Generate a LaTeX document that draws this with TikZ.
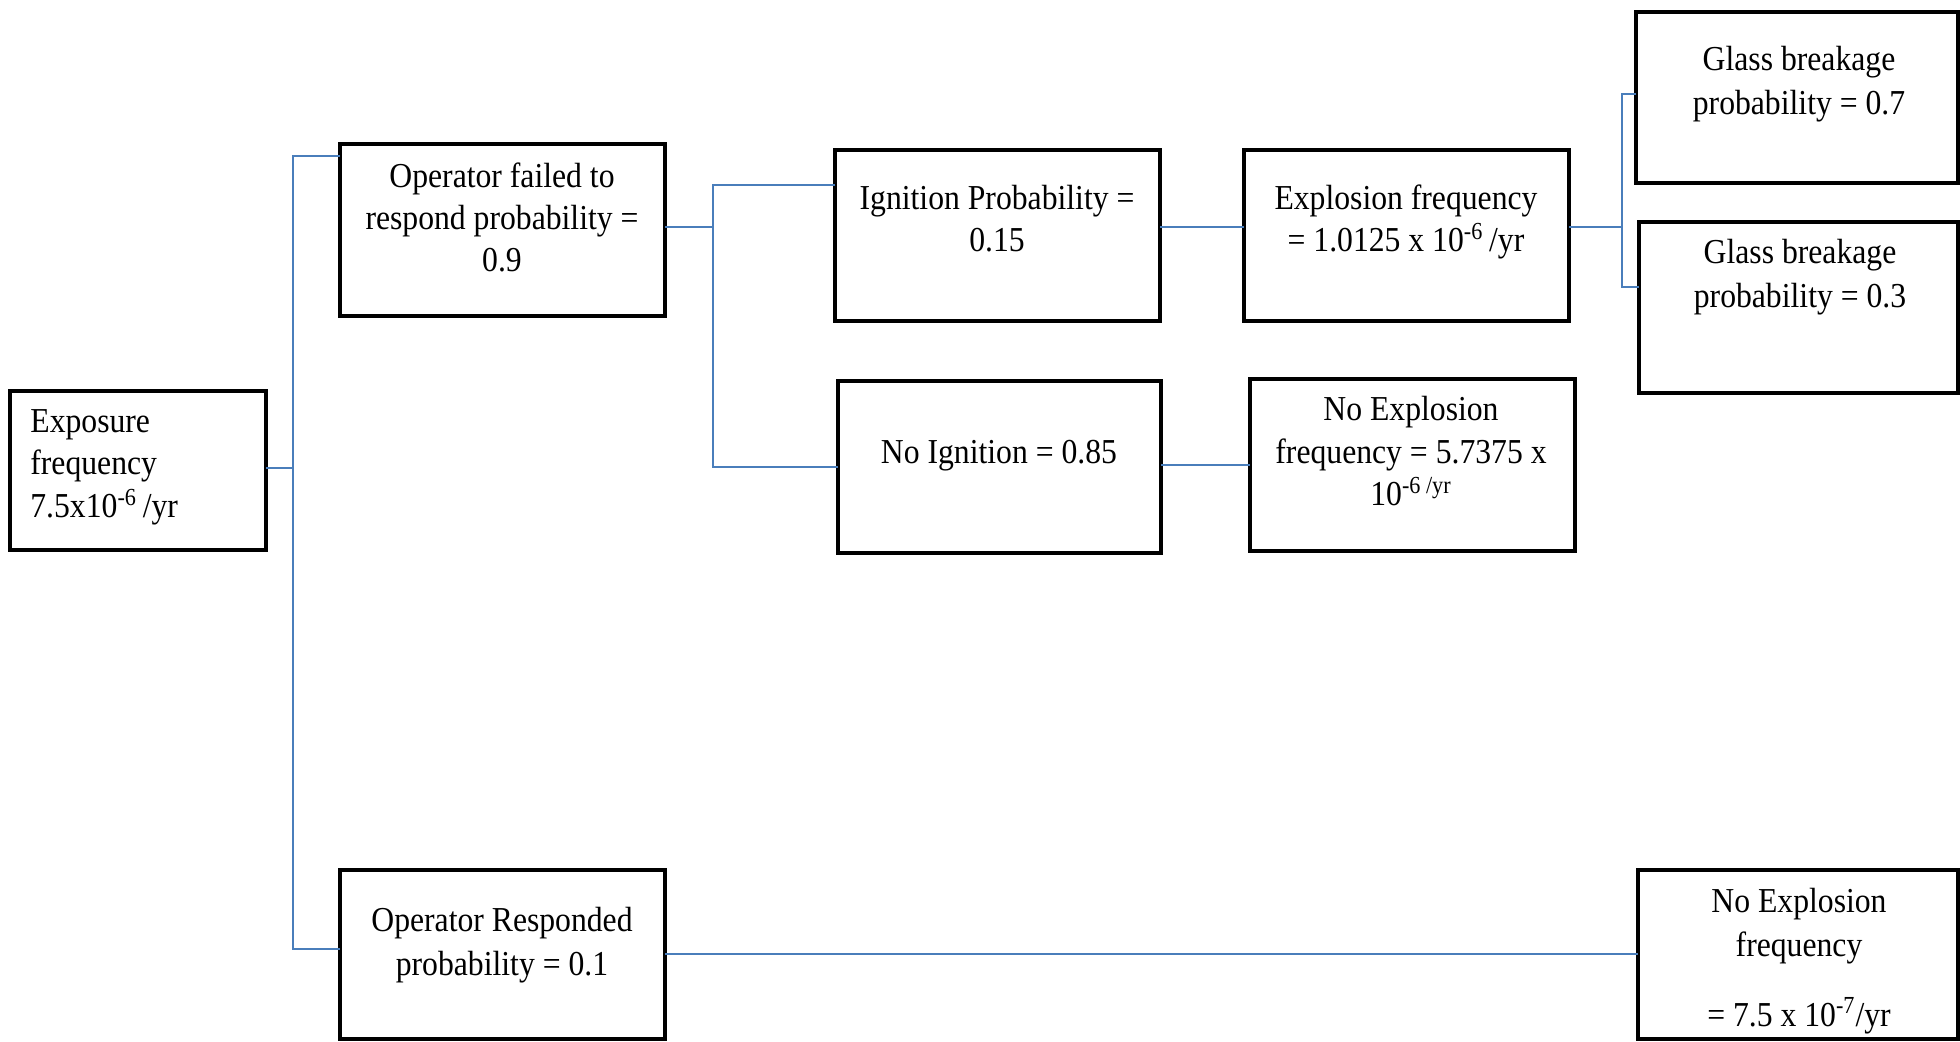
\documentclass[tikz,border=0pt]{standalone}
\usepackage{fontspec}
\setmainfont{Liberation Serif}[FakeStretch=0.905]
\definecolor{conncol}{HTML}{4A7EBB}
\tikzset{
  box/.style={draw=black, line width=2.4pt, fill=white, inner sep=0pt, outer sep=0pt},
  conn/.style={draw=conncol, line width=0.9pt},
  txt/.style={anchor=base, inner sep=0pt, font=\fontsize{17.5}{21}\selectfont},
  txtl/.style={anchor=base west, inner sep=0pt, font=\fontsize{17.5}{21}\selectfont}
}
\begin{document}
\begin{tikzpicture}[x=0.5pt, y=-0.5pt]
\useasboundingbox (0,0) rectangle (1960,1042);
% junction coordinates
\coordinate (j1t) at (293,156);
\coordinate (j1m) at (293,468);
\coordinate (j1b) at (293,949);
\coordinate (j2t) at (713,185);
\coordinate (j2m) at (713,227);
\coordinate (j2b) at (713,467);
\coordinate (j3t) at (1622,94);
\coordinate (j3m) at (1622,227);
\coordinate (j3b) at (1622,287);
\coordinate (c4) at (1200,465);
\coordinate (c5) at (1100,954);
% boxes
\node[box, minimum width=128pt, minimum height=79.5pt] (exp) at (138,470.5) {};
\node[box, minimum width=162.5pt, minimum height=86pt] (ofr) at (502.5,230) {};
\node[box, minimum width=162.5pt, minimum height=85.5pt] (ign) at (997.5,235.5) {};
\node[box, minimum width=162.5pt, minimum height=85.5pt] (expf) at (1406.5,235.5) {};
\node[box, minimum width=161.5pt, minimum height=86pt] (noign) at (999.5,467) {};
\node[box, minimum width=162.5pt, minimum height=86pt] (nexm) at (1412.5,465) {};
\node[box, minimum width=161pt, minimum height=85.5pt] (gb1) at (1797,97.5) {};
\node[box, minimum width=159.5pt, minimum height=85.5pt] (gb2) at (1798.5,307.5) {};
\node[box, minimum width=162.5pt, minimum height=84.5pt] (orsp) at (502.5,954.5) {};
\node[box, minimum width=160pt, minimum height=84.5pt] (nexb) at (1798,954.5) {};
% connectors
\draw[conn] (exp.east |- j1m) -- (j1m);
\draw[conn] (ofr.west |- j1t) -- (j1t) -- (j1b) -- (orsp.west |- j1b);
\draw[conn] (ofr.east |- j2m) -- (j2m);
\draw[conn] (ign.west |- j2t) -- (j2t) -- (j2b) -- (noign.west |- j2b);
\draw[conn] (ign.east |- j2m) -- (expf.west |- j2m);
\draw[conn] (noign.east |- c4) -- (nexm.west |- c4);
\draw[conn] (expf.east |- j3m) -- (j3m);
\draw[conn] (gb1.west |- j3t) -- (j3t) -- (j3b) -- (gb2.west |- j3b);
\draw[conn] (orsp.east |- c5) -- (nexb.west |- c5);
% texts
\node[txtl] (exp1) at (30,433) {Exposure};
\node[txtl] (exp2) at (30,475) {frequency};
\node[txtl] (exp3) at (30,518) {7.5x10\textsuperscript{-6}\,/yr};
\node[txt] (ofr1) at (502,188) {Operator failed to};
\node[txt] (ofr2) at (502,230) {respond probability =};
\node[txt] (ofr3) at (502,272) {0.9};
\node[txt] (ign1) at (997,210) {Ignition Probability =};
\node[txt] (ign2) at (997,252) {0.15};
\node[txt] (expf1) at (1406,210) {Explosion frequency};
\node[txt] (expf2) at (1406,252) {= 1.0125 x 10\textsuperscript{-6}\,/yr};
\node[txt] (gb11) at (1799,71) {Glass breakage};
\node[txt] (gb12) at (1799,115) {probability = 0.7};
\node[txt] (gb21) at (1800,264) {Glass breakage};
\node[txt] (gb22) at (1800,308) {probability = 0.3};
\node[txt] (noign1) at (999,464) {No Ignition = 0.85};
\node[txt] (nexm1) at (1411,421) {No Explosion};
\node[txt] (nexm2) at (1411,464) {frequency = 5.7375 x};
\node[txt] (nexm3) at (1411,506) {10\textsuperscript{-6 /yr}};
\node[txt] (orsp1) at (502,931) {Operator Responded};
\node[txt] (orsp2) at (502,975) {probability = 0.1};
\node[txt] (nexb1) at (1799,912) {No Explosion};
\node[txt] (nexb2) at (1799,956) {frequency};
\node[txt] (nexb3) at (1799,1026) {= 7.5 x 10\textsuperscript{-7}/yr};
\end{tikzpicture}
\end{document}
